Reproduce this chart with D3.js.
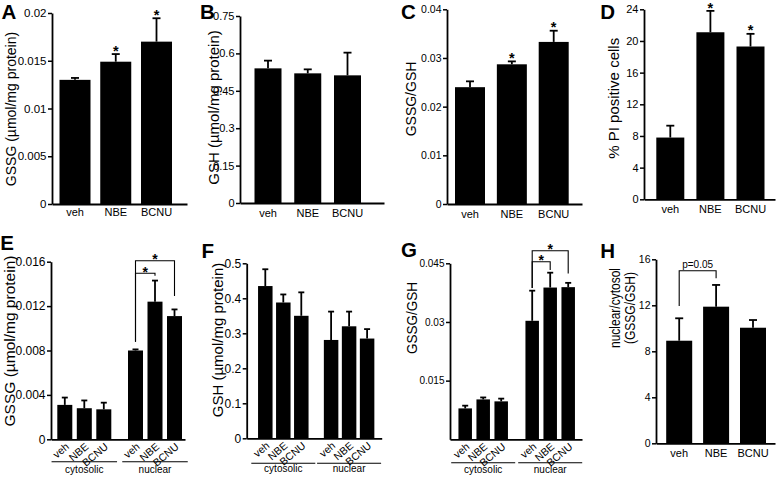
<!DOCTYPE html>
<html><head><meta charset="utf-8">
<script src="https://cdn.jsdelivr.net/npm/d3@7"></script>
<style>
body{margin:0;background:#fff}
svg{display:block}
text{font-family:Arial,"Liberation Sans",Helvetica,sans-serif;fill:#000}
</style>
</head><body>
<svg id="c" width="777" height="478"></svg>
<script>
// ---------------- DATA ----------------
const cats = ["veh", "NBE", "BCNU"];
const fractions = ["cytosolic", "nuclear"];

// A: GSSG (µmol/mg protein)
const aMean = [0.0130, 0.0149, 0.0170];
const aSem  = [0.0002, 0.0008, 0.00245];
const aTicks = [0, 0.005, 0.01, 0.015, 0.02];
const aTickLabels = ["0", "0.005", "0.01", "0.015", "0.02"];
const aStars = ["NBE", "BCNU"];

// B: GSH (µmol/mg protein)
const bMean = [0.540, 0.520, 0.512];
const bSem  = [0.031, 0.016, 0.091];
const bTicks = [0, 0.15, 0.3, 0.45, 0.6, 0.75];
const bTickLabels = ["0", "0.15", "0.3", "0.45", "0.6", "0.75"];
const bStars = [];

// C: GSSG/GSH
const cMean = [0.0240, 0.0287, 0.0333];
const cSem  = [0.0012, 0.0006, 0.0023];
const cTicks = [0, 0.01, 0.02, 0.03, 0.04];
const cTickLabels = ["0", "0.01", "0.02", "0.03", "0.04"];
const cStars = ["NBE", "BCNU"];

// D: % PI positive cells
const dMean = [7.8, 21.1, 19.3];
const dSem  = [1.5, 2.7, 1.6];
const dTicks = [0, 4, 8, 12, 16, 20, 24];
const dTickLabels = ["0", "4", "8", "12", "16", "20", "24"];
const dStars = ["NBE", "BCNU"];

// E: GSSG (µmol/mg protein), cytosolic / nuclear
const eCytMean = [0.0031, 0.0028, 0.0027];
const eCytSem  = [0.00066, 0.0007, 0.0006];
const eNucMean = [0.0080, 0.0124, 0.0111];
const eNucSem  = [0.0001, 0.0019, 0.0006];
const eTicks = [0, 0.004, 0.008, 0.012, 0.016];
const eTickLabels = ["0", "0.004", "0.008", "0.012", "0.016"];
const eBrackets = [
  {from: "veh", to: "NBE",  y: 0.01496, legFrom: 0.00879, legTo: 0.01474, label: "*"},
  {from: "veh", to: "BCNU", y: 0.01609, legFrom: 0.00879, legTo: 0.0129,  label: "*"}
];

// F: GSH (µmol/mg protein), cytosolic / nuclear
const fCytMean = [0.435, 0.388, 0.350];
const fCytSem  = [0.048, 0.023, 0.067];
const fNucMean = [0.281, 0.320, 0.285];
const fNucSem  = [0.081, 0.042, 0.027];
const fTicks = [0, 0.1, 0.2, 0.3, 0.4, 0.5];
const fTickLabels = ["0", "0.1", "0.2", "0.3", "0.4", "0.5"];
const fBrackets = [];

// G: GSSG/GSH, cytosolic / nuclear
const gCytMean = [0.0079, 0.0102, 0.0097];
const gCytSem  = [0.0007, 0.0005, 0.0007];
const gNucMean = [0.0303, 0.0388, 0.0389];
const gNucSem  = [0.0077, 0.0038, 0.0011];
const gTicks = [0.015, 0.03, 0.045];
const gTickLabels = ["0.015", "0.03", "0.045"];
const gBrackets = [
  {from: "veh", to: "NBE",  y: 0.0454, legFrom: 0.0387, legTo: 0.0433, label: "*"},
  {from: "veh", to: "BCNU", y: 0.0482, legFrom: 0.0387, legTo: 0.0424, label: "*"}
];

// H: nuclear/cytosol (GSSG/GSH)
const hMean = [8.92, 11.88, 10.05];
const hSem  = [1.95, 1.89, 0.67];
const hTicks = [0, 4, 8, 12, 16];
const hTickLabels = ["0", "4", "8", "12", "16"];
const hBrackets = [
  {from: "veh", to: "NBE", y: 15.0, legFrom: 11.94, legTo: 14.35, label: "p=0.05"}
];

// ---------------- DRAWING ----------------
const svg = d3.select("#c");
const AXW = 1.8;

function yAxis(g, y, ticks, labels, fs) {
  const ax = g.append("g")
    .call(d3.axisLeft(y).tickValues(ticks)
      .tickFormat((d, i) => labels[i]).tickSize(4).tickSizeOuter(0).tickPadding(1.5));
  ax.select(".domain").attr("stroke", "#000").attr("stroke-width", AXW);
  ax.selectAll(".tick line").attr("stroke", "#000").attr("stroke-width", 1.5);
  ax.selectAll(".tick text").attr("font-size", fs).attr("font-family", "Arial, 'Liberation Sans', sans-serif").attr("fill", "#000");
  return ax;
}

function xLine(g, x0, x1, yPix) {
  const s = d3.scaleLinear().domain([0, 1]).range([x0, x1]);
  const ax = g.append("g").attr("transform", `translate(0,${yPix})`)
    .call(d3.axisBottom(s).tickValues([]).tickSizeOuter(0));
  ax.select(".domain").attr("stroke", "#000").attr("stroke-width", AXW);
}

function yLabel(g, lines, xs, cy, fs, lens) {
  lines.forEach((t, i) => {
    const tx = g.append("text")
      .attr("transform", `translate(${xs[i]},${cy}) rotate(-90)`)
      .attr("text-anchor", "middle")
      .attr("font-size", fs)
      .text(t);
    if (lens && lens[i]) tx.attr("textLength", lens[i]).attr("lengthAdjust", "spacingAndGlyphs");
  });
}

function letter(g, t, x, y) {
  g.append("text").attr("x", x).attr("y", y)
    .attr("font-size", 20.5).attr("font-weight", "bold").text(t);
}

function bars(g, items, y, bw, capW) {
  g.selectAll(null).data(items).enter().append("rect")
    .attr("x", d => d.cx - bw / 2)
    .attr("y", d => y(d.mean))
    .attr("width", bw)
    .attr("height", d => y(0) - y(d.mean))
    .attr("fill", "#000");
  g.selectAll(null).data(items).enter().append("line")
    .attr("x1", d => d.cx).attr("x2", d => d.cx)
    .attr("y1", d => y(d.mean)).attr("y2", d => y(d.mean + d.sem))
    .attr("stroke", "#000").attr("stroke-width", 1.8);
  g.selectAll(null).data(items).enter().append("line")
    .attr("x1", d => d.cx - capW / 2).attr("x2", d => d.cx + capW / 2)
    .attr("y1", d => y(d.mean + d.sem)).attr("y2", d => y(d.mean + d.sem))
    .attr("stroke", "#000").attr("stroke-width", 1.8);
}

function brackets(g, list, x, y, fs) {
  list.forEach(b => {
    const x0 = x(b.from), x1 = x(b.to), yy = y(b.y);
    g.append("path")
      .attr("d", `M${x0},${y(b.legFrom)}V${yy}H${x1}V${y(b.legTo)}`)
      .attr("fill", "none").attr("stroke", "#000").attr("stroke-width", 1.1);
    const isStar = b.label === "*";
    g.append("text")
      .attr("x", (x0 + x1) / 2)
      .attr("y", isStar ? yy + 3.5 : yy - 3)
      .attr("text-anchor", "middle")
      .attr("font-size", isStar ? fs : 10)
      .attr("font-weight", isStar ? "bold" : "normal")
      .text(b.label);
  });
}

// ---- 3-bar panels ----
function simplePanel(L, mean, sem, ticks, tickLabels, stars, brk) {
  const g = svg.append("g");
  const y = d3.scaleLinear().domain([0, ticks[ticks.length - 1]]).range([L.y0, L.yTop]);
  const x = d3.scalePoint().domain(cats).range([L.c0, L.c2]);
  letter(g, L.letter, L.lx, L.ly);
  const items = cats.map((c, i) => ({cat: c, cx: x(c), mean: mean[i], sem: sem[i]}));
  bars(g, items, y, L.bw, 8);
  yAxis(g.append("g").attr("transform", `translate(${L.axisX},0)`), y, ticks, tickLabels, L.tickFs);
  xLine(g, L.axisX, L.axisEnd, L.y0);
  g.selectAll(null).data(cats).enter().append("text")
    .attr("x", d => x(d)).attr("y", L.xlabY)
    .attr("text-anchor", "middle").attr("font-size", 11).text(d => d);
  const starFs = 14.5;
  g.selectAll(null).data(items.filter(d => stars.includes(d.cat))).enter().append("text")
    .attr("x", d => d.cx).attr("y", d => Math.max(y(d.mean + d.sem) + 1.5, starFs * 0.91))
    .attr("text-anchor", "middle").attr("font-size", starFs).attr("font-weight", "bold").text("*");
  if (brk) brackets(g, brk, x, y, 14);
  yLabel(g, L.ylab, L.ylabX, L.ylabY, L.ylabFs, L.ylabLen);
}

// ---- grouped panels (cytosolic / nuclear) ----
function groupedPanel(L, cytMean, cytSem, nucMean, nucSem, ticks, tickLabels, brk) {
  const g = svg.append("g");
  const y = d3.scaleLinear().domain([0, ticks[ticks.length - 1]]).range([L.y0, L.yTop]);
  const gx = d3.scalePoint().domain(fractions).range([L.g0, L.g1]);
  const ix = d3.scalePoint().domain(cats).range([-L.step, L.step]);
  letter(g, L.letter, L.lx, L.ly);
  const items = [];
  cats.forEach((c, i) => items.push({grp: "cytosolic", cat: c, cx: gx("cytosolic") + ix(c), mean: cytMean[i], sem: cytSem[i]}));
  cats.forEach((c, i) => items.push({grp: "nuclear", cat: c, cx: gx("nuclear") + ix(c), mean: nucMean[i], sem: nucSem[i]}));
  bars(g, items, y, L.bw, 6);
  yAxis(g.append("g").attr("transform", `translate(${L.axisX},0)`), y, ticks, tickLabels, L.tickFs);
  xLine(g, L.axisX, L.axisEnd, L.y0);
  g.selectAll(null).data(items).enter().append("text")
    .attr("transform", d => `translate(${d.cx + 5},${L.y0 + 8.5}) rotate(-40)`)
    .attr("text-anchor", "end").attr("font-size", 10.5).text(d => d.cat);
  const half = 1.5 * L.step + L.pad;
  fractions.forEach(f => {
    g.append("line")
      .attr("x1", gx(f) - half).attr("x2", gx(f) + half)
      .attr("y1", L.lineY).attr("y2", L.lineY)
      .attr("stroke", "#000").attr("stroke-width", 1.1);
    g.append("text").attr("x", gx(f)).attr("y", L.glabY)
      .attr("text-anchor", "middle").attr("font-size", 10).text(f);
  });
  const nx = c => gx("nuclear") + ix(c);
  brackets(g, brk, nx, y, 14);
  yLabel(g, L.ylab, L.ylabX, L.ylabY, L.ylabFs, L.ylabLen);
}

// ---------------- LAYOUT ----------------
simplePanel({letter: "A", lx: 1.5, ly: 18.5, axisX: 52, axisEnd: 187, y0: 204, yTop: 13,
  c0: 75, c2: 156.5, bw: 31, tickFs: 11.5, ylab: ["GSSG (µmol/mg protein)"], ylabX: [15.5], ylabY: 109, ylabFs: 14, xlabY: 216},
  aMean, aSem, aTicks, aTickLabels, aStars);
simplePanel({letter: "B", lx: 200, ly: 18.5, axisX: 240, axisEnd: 384, y0: 203, yTop: 16,
  c0: 268, c2: 347.5, bw: 27, tickFs: 11, ylab: ["GSH (µmol/mg protein)"], ylabX: [219], ylabY: 107.5, ylabFs: 15, xlabY: 216.5},
  bMean, bSem, bTicks, bTickLabels, bStars);
simplePanel({letter: "C", lx: 401, ly: 18.8, axisX: 447, axisEnd: 582, y0: 204, yTop: 9.3,
  c0: 470, c2: 553.7, bw: 30, tickFs: 10.5, ylab: ["GSSG/GSH"], ylabX: [416], ylabY: 99, ylabFs: 14, xlabY: 218},
  cMean, cSem, cTicks, cTickLabels, cStars);
simplePanel({letter: "D", lx: 600.3, ly: 18.5, axisX: 644, axisEnd: 775, y0: 199.3, yTop: 9.3,
  c0: 670.3, c2: 750.5, bw: 28, tickFs: 11, ylab: ["% PI positive cells"], ylabX: [619], ylabY: 98.3, ylabFs: 15, xlabY: 212.5},
  dMean, dSem, dTicks, dTickLabels, dStars);

groupedPanel({letter: "E", lx: 0.3, ly: 250, axisX: 51, axisEnd: 185, y0: 439.3, yTop: 261.7,
  g0: 84.3, g1: 155, step: 19.5, pad: 3.5, bw: 15, tickFs: 12, ylab: ["GSSG (µmol/mg protein)"], ylabX: [14.5], ylabY: 341, ylabFs: 15.5, lineY: 461.7, glabY: 473},
  eCytMean, eCytSem, eNucMean, eNucSem, eTicks, eTickLabels, eBrackets);
groupedPanel({letter: "F", lx: 201.5, ly: 258.3, axisX: 246.7, axisEnd: 381.7, y0: 438.3, yTop: 263.3,
  g0: 283.3, g1: 349.1, step: 18, pad: 5, bw: 14.5, tickFs: 12, ylab: ["GSH (µmol/mg protein)"], ylabX: [222.5], ylabY: 340, ylabFs: 15, lineY: 463.3, glabY: 472},
  fCytMean, fCytSem, fNucMean, fNucSem, fTicks, fTickLabels, fBrackets);
groupedPanel({letter: "G", lx: 401, ly: 256.5, axisX: 450, axisEnd: 582, y0: 439.3, yTop: 263.3,
  g0: 483.2, g1: 550.2, step: 18, pad: 5, bw: 13.5, tickFs: 10, ylab: ["GSSG/GSH"], ylabX: [417], ylabY: 318, ylabFs: 15, ylabLen: [72], lineY: 462.7, glabY: 473},
  gCytMean, gCytSem, gNucMean, gNucSem, gTicks, gTickLabels, gBrackets);

simplePanel({letter: "H", lx: 600.3, ly: 258, axisX: 656, axisEnd: 775, y0: 443.3, yTop: 259.3,
  c0: 679.2, c2: 753, bw: 26, tickFs: 10.5, ylab: ["nuclear/cytosol", "(GSSG/GSH)"], ylabX: [620, 635], ylabY: 308, ylabFs: 14, ylabLen: [80, 72], xlabY: 457},
  hMean, hSem, hTicks, hTickLabels, [], hBrackets);
</script>
</body></html>
